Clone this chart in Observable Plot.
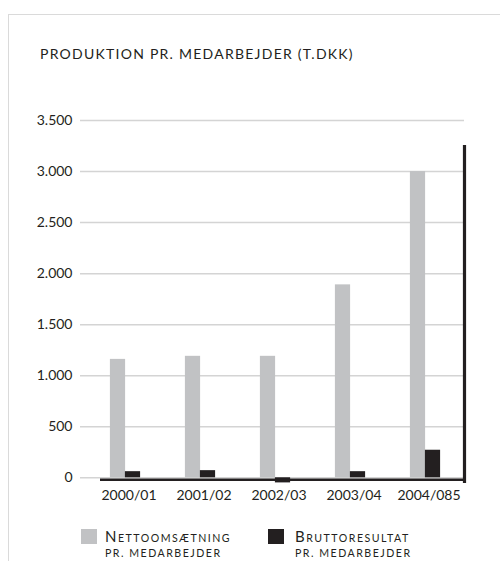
<!DOCTYPE html>
<html>
<head>
<meta charset="utf-8">
<script src="https://cdn.jsdelivr.net/npm/d3@7"></script>
<script src="https://cdn.jsdelivr.net/npm/@observablehq/plot@0.6"></script>
<style>
  html, body { margin: 0; padding: 0; background: #fff; }
  #wrap { position: relative; width: 500px; height: 561px; overflow: hidden; font-family: Lato, "Open Sans", sans-serif; color: #231f20; }
  #border { position: absolute; left: 8px; top: 14px; width: 600px; height: 700px; border-top: 1.5px solid #dadada; border-left: 1.5px solid #dadada; }
  #title { position: absolute; left: 40px; top: 46px; font-size: 14px; line-height: 16px; letter-spacing: 1.25px; white-space: nowrap; }
  #chart { position: absolute; left: 0; top: 0; }
  .sw { position: absolute; width: 16px; height: 15px; }
  .lg { position: absolute; white-space: nowrap; letter-spacing: 1.5px; }
  .l1 { font-size: 15px; line-height: 18px; }
  .l1 .rest { font-size: 10.6px; text-transform: uppercase; }
  .l2 { font-size: 10.6px; line-height: 13px; text-transform: uppercase; }
</style>
</head>
<body>
<div id="wrap">
  <div id="border"></div>
  <div id="title"></div>
  <div id="chart"></div>
  <div id="legend"></div>
</div>
<script>
const title = "PRODUKTION PR. MEDARBEJDER (T.DKK)";
const categories = ["2000/01", "2001/02", "2002/03", "2003/04", "2004/085"];
const netto = [1160, 1190, 1190, 1890, 3000];
const brutto = [60, 70, -50, 60, 270];
const yTicks = [0, 500, 1000, 1500, 2000, 2500, 3000, 3500];
const seriesNames = ["Nettoomsætning", "Bruttoresultat"];
const seriesSub = ["pr. medarbejder", "pr. medarbejder"];
const colors = ["#c1c2c4", "#231f20"];

document.getElementById("title").textContent = title;

const rowsN = categories.map((c, i) => ({cat: c, value: netto[i]}));
const rowsB = categories.map((c, i) => ({cat: c, value: brutto[i]}));

const fmt = d => d3.format(",")(d).replace(/,/g, ".");

const plot = Plot.plot({
  width: 500,
  height: 561,
  marginLeft: 80,
  marginRight: 36,
  marginTop: 146,
  marginBottom: 80,
  style: {fontFamily: "Lato, 'Open Sans', sans-serif", fontSize: "14px", color: "#231f20", overflow: "visible"},
  x: {domain: categories, range: [86, 465], padding: 0, label: null},
  y: {domain: [0, 3500], range: [477.3, 120], label: null},
  marks: [
    Plot.ruleY(yTicks, {stroke: "#d4d4d4", strokeWidth: 1.5}),
    Plot.barY(rowsN, {x: "cat", y: "value", fill: colors[0], insetLeft: 21.9, insetRight: 37.9}),
    Plot.barY(rowsB, {x: "cat", y: "value", fill: colors[1], insetLeft: 36.9, insetRight: 22.9}),
    Plot.ruleY([0], {stroke: "#231f20", strokeWidth: 2.6, insetLeft: 20, dy: 2}),
    Plot.frame({anchor: "right", stroke: "#231f20", strokeWidth: 3.2}),
    Plot.axisY(yTicks, {tickSize: 0, tickPadding: 8, tickFormat: fmt, fontSize: 14, fill: "#231f20"}),
    Plot.axisX({tickSize: 0, tickPadding: 9, fontSize: 14, fill: "#231f20", dx: 3})
  ]
});
document.getElementById("chart").appendChild(plot);

const legend = document.getElementById("legend");
const lx = [81, 268], tx = [105, 295];
seriesNames.forEach((n, i) => {
  const sw = document.createElement("div");
  sw.className = "sw";
  sw.style.left = lx[i] + "px";
  sw.style.top = "529px";
  sw.style.background = colors[i];
  legend.appendChild(sw);
  const a = document.createElement("div");
  a.className = "lg l1";
  a.style.left = tx[i] + "px";
  a.style.top = "527px";
  a.innerHTML = n[0] + '<span class="rest">' + n.slice(1) + "</span>";
  legend.appendChild(a);
  const b = document.createElement("div");
  b.className = "lg l2";
  b.style.left = tx[i] + "px";
  b.style.top = "547px";
  b.textContent = seriesSub[i];
  legend.appendChild(b);
});
</script>
</body>
</html>
